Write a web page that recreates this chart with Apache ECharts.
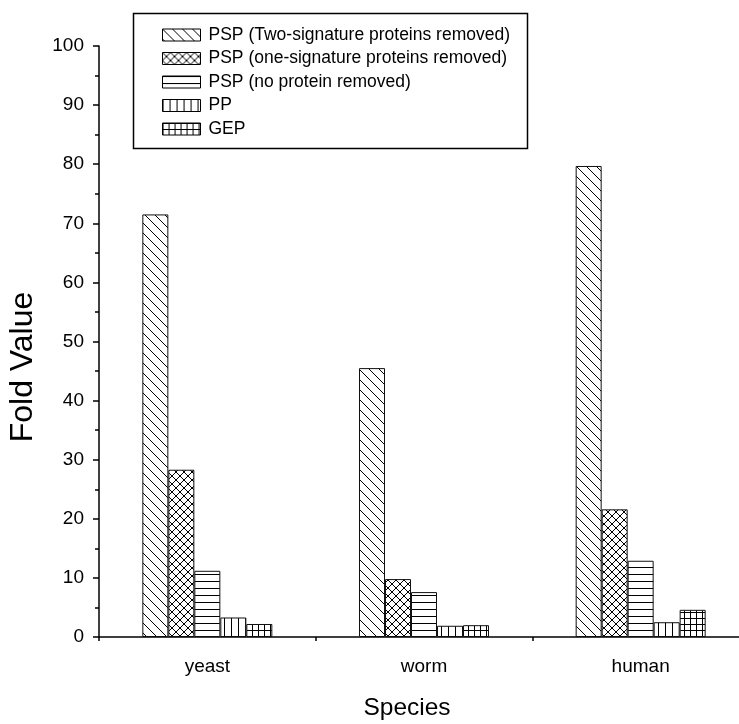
<!DOCTYPE html>
<html>
<head>
<meta charset="utf-8">
<script src="https://cdn.jsdelivr.net/npm/echarts@6/dist/echarts.min.js"></script>
<style>
html,body{margin:0;padding:0;background:#fff;}
#chart{width:739px;height:724px;}
</style>
</head>
<body>
<div id="chart"></div>
<script>
// ---- data ----
const categories = ['yeast', 'worm', 'human'];
const seriesNames = [
  'PSP (Two-signature proteins removed)',
  'PSP (one-signature proteins removed)',
  'PSP (no protein removed)',
  'PP',
  'GEP'
];
const pspTwoRemoved = [71.5, 45.5, 79.7];
const pspOneRemoved = [28.3, 9.8, 21.6];
const pspNoneRemoved = [11.2, 7.6, 12.9];
const ppValues = [3.3, 1.9, 2.5];
const gepValues = [2.2, 2.0, 4.6];
const yTicks = [0, 10, 20, 30, 40, 50, 60, 70, 80, 90, 100];
const xTitle = 'Species';
const yTitle = 'Fold Value';

// ---- patterns ----
function tile(w, h, draw) {
  const c = document.createElement('canvas');
  c.width = w; c.height = h;
  const g = c.getContext('2d');
  g.fillStyle = '#fff';
  g.fillRect(0, 0, w, h);
  g.strokeStyle = '#000';
  g.fillStyle = '#000';
  g.lineWidth = 1;
  draw(g, w, h);
  return c;
}
function back(g, s) {
  for (const k of [-s, 0, s]) {
    g.beginPath(); g.moveTo(k - 1, -1); g.lineTo(k + s + 1, s + 1); g.stroke();
  }
}
function fwd(g, s) {
  for (const k of [-s, 0, s]) {
    g.beginPath(); g.moveTo(k + s + 1, -1); g.lineTo(k - 1, s + 1); g.stroke();
  }
}
const patBack = tile(10, 10, (g, w) => back(g, w));
const patCross = tile(8, 8, (g, w) => { back(g, w); fwd(g, w); });
const patHoriz = tile(7, 7, (g, w, h) => g.fillRect(0, 0, w, 1));
const patVert = tile(7, 7, (g, w, h) => g.fillRect(0, 0, 1, h));
const patGrid = tile(6, 6, (g, w, h) => { g.fillRect(0, 0, w, 1); g.fillRect(0, 0, 1, h); });
const patterns = [patBack, patCross, patHoriz, patVert, patGrid];
const values = [pspTwoRemoved, pspOneRemoved, pspNoneRemoved, ppValues, gepValues];

const font = "'Liberation Sans', Arial, sans-serif";
const chart = echarts.init(document.getElementById('chart'), null, {renderer: 'canvas'});

const series = seriesNames.map((name, i) => ({
  name: name,
  type: 'bar',
  data: values[i],
  barWidth: 26,
  barGap: '0%',
  xAxisIndex: 0,
  itemStyle: {
    color: {image: patterns[i], repeat: 'repeat'},
    borderColor: '#111',
    borderWidth: 1
  },
  emphasis: {disabled: true},
  animation: false
}));

chart.setOption({
  animation: false,
  backgroundColor: '#fff',
  grid: {left: 99, top: 46, height: 591, width: 650, containLabel: false, outerBoundsMode: 'none'},
  legend: {
    orient: 'vertical',
    left: 162,
    top: 26,
    padding: 0,
    itemWidth: 38,
    itemHeight: 12,
    itemGap: 5.5,
    icon: 'rect',
    selectedMode: false,
    itemStyle: {borderColor: '#000', borderWidth: 1},
    textStyle: {fontFamily: font, fontSize: 17.5, color: '#000', lineHeight: 17, padding: [0, 0, 0, 3]},
    data: seriesNames
  },
  xAxis: [{
    type: 'category',
    data: categories,
    boundaryGap: true,
    axisLine: {lineStyle: {color: '#000', width: 1.5}},
    axisTick: {alignWithLabel: true, length: 8, lineStyle: {color: '#000', width: 1.5}},
    axisLabel: {fontFamily: font, fontSize: 19, color: '#000', margin: 20}
  }, {
    type: 'category',
    data: categories,
    position: 'bottom',
    boundaryGap: true,
    axisLine: {show: false},
    axisTick: {show: true, length: 4, lineStyle: {color: '#000', width: 1.5}},
    axisLabel: {show: false}
  }],
  yAxis: {
    type: 'value',
    min: 0,
    max: 100,
    interval: 10,
    axisLine: {show: true, lineStyle: {color: '#000', width: 1.5}},
    axisTick: {show: true, length: 6, lineStyle: {color: '#000', width: 1.5}},
    minorTick: {show: true, splitNumber: 2, length: 4, lineStyle: {color: '#000', width: 1.5}},
    splitLine: {show: false},
    axisLabel: {
      fontFamily: font, fontSize: 19, color: '#000', margin: 15,
      formatter: v => yTicks.includes(v) ? String(v) : ''
    }
  },
  graphic: [
    {
      type: 'rect',
      shape: {x: 133.5, y: 13.5, width: 394, height: 135},
      style: {fill: 'none', stroke: '#000', lineWidth: 1.5},
      silent: true, z: 100
    },
    {
      type: 'text',
      x: 407, y: 708,
      style: {text: xTitle, fontFamily: font, fontSize: 24.5, fill: '#000', align: 'center', verticalAlign: 'middle'}
    },
    {
      type: 'text',
      x: 23, y: 367,
      rotation: Math.PI / 2,
      style: {text: yTitle, fontFamily: font, fontSize: 32, fill: '#000', align: 'center', verticalAlign: 'middle'}
    }
  ],
  series: series
});
</script>
</body>
</html>
